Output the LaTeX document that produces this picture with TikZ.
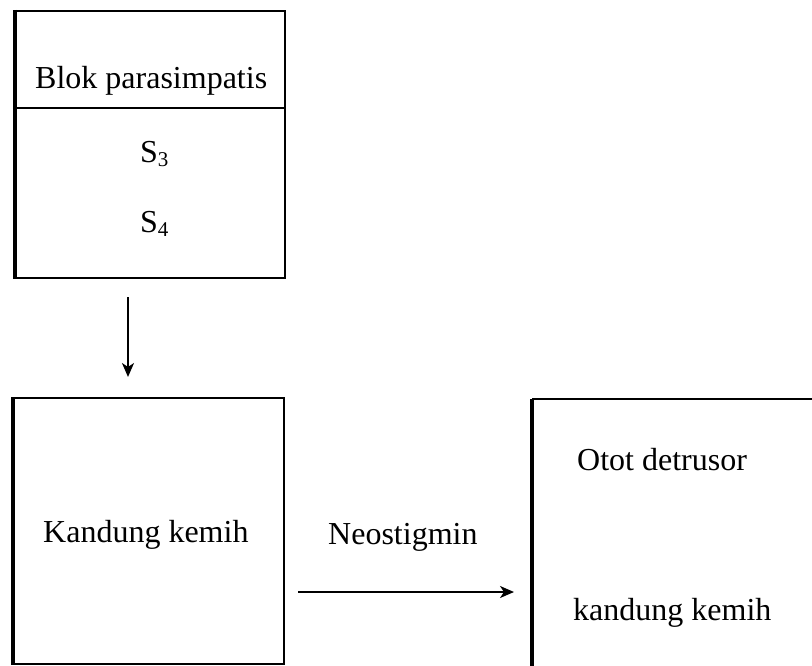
\documentclass[tikz,border=0pt]{standalone}
\usepackage{fontspec}
\setmainfont{Liberation Serif}
\usetikzlibrary{arrows.meta}
\begin{document}
\begin{tikzpicture}[x=1pt,y=1pt,
  frame/.style={draw=black, line width=2pt, inner sep=0pt},
  thickedge/.style={draw=black, line width=4pt},
  thinedge/.style={draw=black, line width=2pt},
  lbl/.style={inner sep=0pt, anchor=base west, font=\fontsize{32}{38}\selectfont},
  arr/.style={draw=black, line width=2pt, -{Stealth[length=14pt,width=12pt,inset=4pt]}}]
\useasboundingbox (0,0) rectangle (812,-666);
% top box
\node[frame, anchor=north west, minimum width=269pt, minimum height=267pt] (blok) at (15,-10) {};
\draw[thickedge] (blok.north west) -- (blok.south west);
\coordinate (divw) at (15,-108);
\coordinate (dive) at (284,-108);
\draw[thinedge] (divw) -- (dive);
\node[lbl] (bloktxt) at (35,-89) {Blok parasimpatis};
\node[lbl] (s3) at (140,-163) {S\raisebox{-0.25ex}{\fontsize{21}{21}\selectfont 3}};
\node[lbl] (s4) at (140,-233) {S\raisebox{-0.25ex}{\fontsize{21}{21}\selectfont 4}};
% bottom-left box
\node[frame, anchor=north west, minimum width=270pt, minimum height=266pt] (kand) at (13,-397) {};
\draw[thickedge] (kand.north west) -- (kand.south west);
\node[lbl] (kandtxt) at (43,-542) {Kandung kemih};
% right box (open on right and bottom)
\node[inner sep=0pt, anchor=north west, minimum width=280pt, minimum height=267pt] (otot) at (532,-399) {};
\draw[thinedge] (otot.north east) -- (otot.north west);
\draw[thickedge] (otot.north west) -- (otot.south west);
\node[lbl] (ototxt) at (577,-470) {Otot detrusor};
\node[lbl] (kand2txt) at (573,-620) {kandung kemih};
% arrows
\coordinate (a1) at (128,-297);
\coordinate (a2) at (128,-377);
\draw[arr] (a1) -- (a2);
\coordinate (b1) at (298,-592);
\coordinate (b2) at (514,-592);
\draw[arr] (b1) -- (b2);
\node[lbl] (neo) at (328,-544) {Neostigmin};
\end{tikzpicture}
\end{document}
